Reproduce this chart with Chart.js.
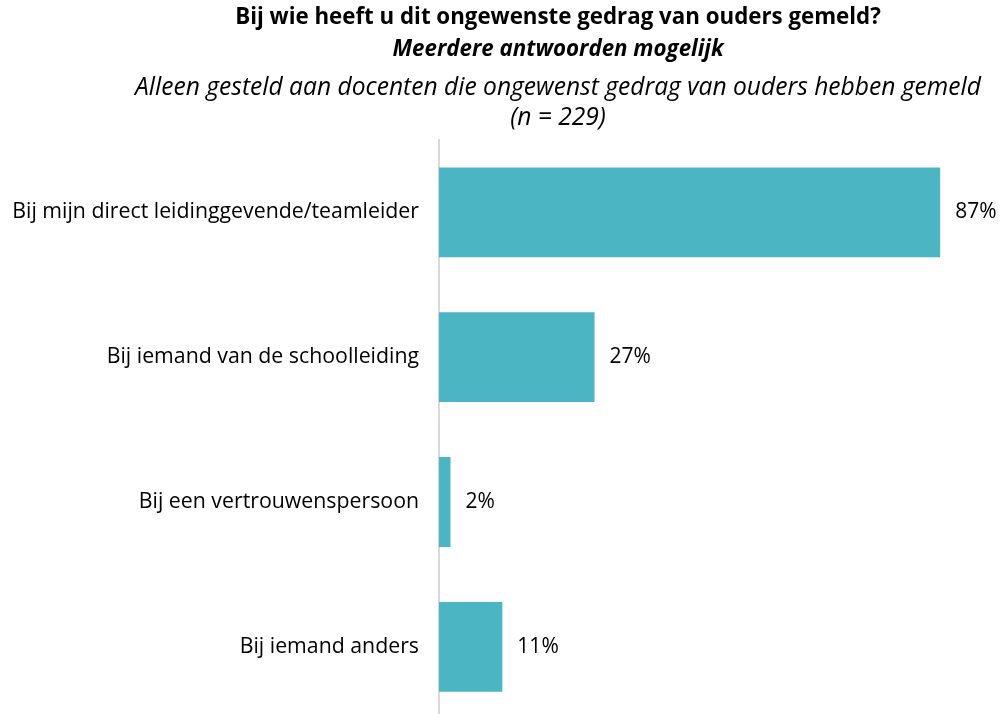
<!DOCTYPE html>
<html>
<head>
<meta charset="utf-8">
<script src="https://cdn.jsdelivr.net/npm/chart.js@4.4.0/dist/chart.umd.min.js"></script>
<style>
    body { margin: 0; overflow: hidden; background: #fff; }
    canvas { display: block; }
</style>
</head>
<body>
<canvas id="chart" width="1000" height="752"></canvas>
<script>
const categories = [
    'Bij mijn direct leidinggevende/teamleider',
    'Bij iemand van de schoolleiding',
    'Bij een vertrouwenspersoon',
    'Bij iemand anders'
];
const values = [87, 27, 2, 11];
const titleLines = [
    { text: 'Bij wie heeft u dit ongewenste gedrag van ouders gemeld?', style: 'bold', size: 22.3, y: 18 },
    { text: 'Meerdere antwoorden mogelijk', style: 'italic bold', size: 22.3, y: 50 },
    { text: 'Alleen gesteld aan docenten die ongewenst gedrag van ouders hebben gemeld', style: 'italic', size: 24.6, y: 88 },
    { text: '(n = 229)', style: 'italic', size: 24.6, y: 118 }
];

const fontFamily = '"Open Sans", Lato, sans-serif';

const titlePlugin = {
    id: 'titleLines',
    afterDraw(chart) {
        const ctx = chart.ctx;
        ctx.save();
        ctx.fillStyle = '#000';
        ctx.textAlign = 'center';
        ctx.textBaseline = 'middle';
        titleLines.forEach(line => {
            ctx.font = `${line.style} ${line.size}px ${fontFamily}`;
            ctx.fillText(line.text, 558, line.y);
        });
        ctx.restore();
    }
};

const valueLabels = {
    id: 'valueLabels',
    afterDatasetsDraw(chart) {
        const ctx = chart.ctx;
        const meta = chart.getDatasetMeta(0);
        ctx.save();
        ctx.fillStyle = '#000';
        ctx.font = `21px ${fontFamily}`;
        ctx.textAlign = 'left';
        ctx.textBaseline = 'middle';
        meta.data.forEach((bar, i) => {
            ctx.fillText(values[i] + '%', bar.x + 15, bar.y);
        });
        ctx.restore();
    }
};

new Chart(document.getElementById('chart'), {
    type: 'bar',
    data: {
        labels: categories,
        datasets: [{
            data: values,
            backgroundColor: '#4BB5C4',
            borderWidth: 0,
            barPercentage: 0.62,
            categoryPercentage: 1
        }]
    },
    options: {
        indexAxis: 'y',
        responsive: false,
        animation: false,
        layout: { padding: { top: 140, right: 8, bottom: 0, left: 0 } },
        plugins: {
            legend: { display: false },
            tooltip: { enabled: false }
        },
        scales: {
            x: {
                display: false,
                min: 0,
                max: 96
            },
            y: {
                afterFit: scale => { scale.width = 439; },
                grid: { display: false, drawTicks: false },
                border: { display: true, color: '#d9d9d9', width: 2 },
                ticks: {
                    color: '#000',
                    padding: 20,
                    font: { family: fontFamily, size: 21.3 }
                }
            }
        }
    },
    plugins: [titlePlugin, valueLabels]
});
</script>
</body>
</html>
